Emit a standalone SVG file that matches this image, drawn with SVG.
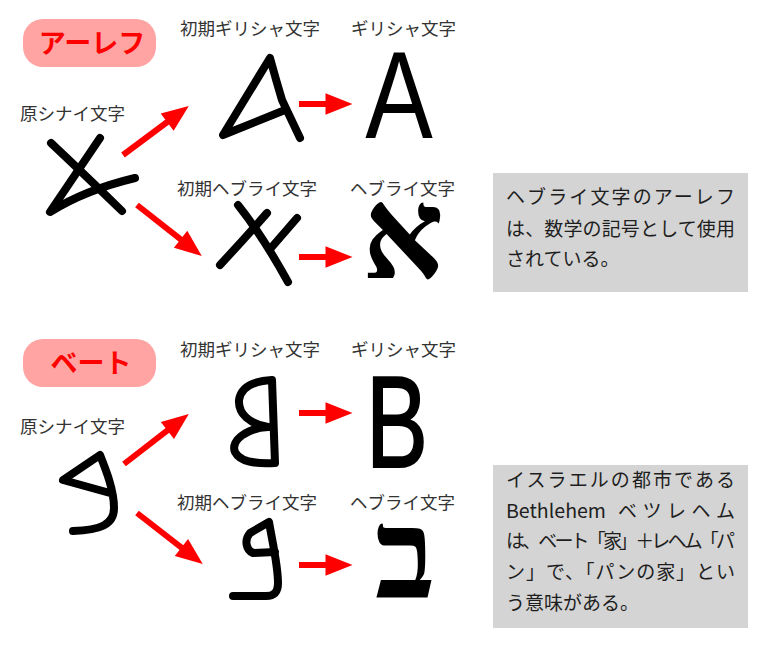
<svg xmlns="http://www.w3.org/2000/svg" width="768" height="651" viewBox="0 0 768 651">
<style>
.title{font-family:"Noto Sans CJK JP",sans-serif;font-size:27px;font-weight:bold;fill:#ff0000;text-anchor:middle}
.tbox{fill:#ffa3a3}
.lbl{font-family:"Noto Sans CJK JP",sans-serif;font-size:17.5px;fill:#333}
.note{font-family:"Noto Sans CJK JP",sans-serif;font-size:19px;fill:#1e1e1e}
.nbox{fill:#d4d4d4}
.hand{fill:none;stroke:#000;stroke-width:8;stroke-linecap:round;stroke-linejoin:round}
.glat{font-family:"Liberation Sans",Arial,sans-serif;fill:#000;text-anchor:middle}
.gheb{font-family:"Liberation Serif","DejaVu Serif",serif;font-weight:bold;fill:#000;text-anchor:middle}
.arr{stroke:#ff0000;stroke-width:6;fill:none;marker-end:url(#ah)}
</style>
<defs>
<marker id="ah" viewBox="0 0 10 8" refX="5" refY="4" markerWidth="5" markerHeight="3.6" orient="auto" markerUnits="strokeWidth">
<path d="M0,0 L10,4 L0,8 z" fill="#ff0000"/>
</marker>
</defs>
<rect width="768" height="651" fill="#fff"/>

<!-- Aleph section -->
<g id="title-aleph">
<rect class="tbox" x="23" y="19" width="133" height="48" rx="20"/>
<text class="title" x="92" y="53">アーレフ</text>
</g>
<g id="label-aleph-proto"><text class="lbl" x="20" y="119.6">原シナイ文字</text></g>
<g id="label-aleph-earlygreek"><text class="lbl" x="180" y="34.6">初期ギリシャ文字</text></g>
<g id="label-aleph-greek"><text class="lbl" x="351" y="34.6">ギリシャ文字</text></g>
<g id="label-aleph-earlyhebrew"><text class="lbl" x="177" y="194.6">初期ヘブライ文字</text></g>
<g id="label-aleph-hebrew"><text class="lbl" x="350" y="194.6">ヘブライ文字</text></g>

<g id="glyph-aleph-proto">
<path class="hand" d="M51,143 Q85,175 122,211"/>
<path class="hand" d="M100,138 Q75,175 50,212 Q85,190 135,178"/>
</g>
<g id="glyph-aleph-earlygreek">
<path class="hand" d="M285,110 L223,135 L270,58 Q276,80 282,100 L300,138"/>
</g>
<g id="glyph-aleph-greek">
<text class="glat" transform="translate(399,138) scale(0.81,1)" font-size="125">A</text>
</g>
<g id="glyph-aleph-earlyhebrew">
<path class="hand" d="M238,205 Q262,235 288,282"/>
<path class="hand" d="M267,213 Q245,238 220,265"/>
<path class="hand" d="M297,218 L271,248"/>
</g>
<g id="glyph-aleph-hebrew">
<text class="gheb" x="403" y="278" font-size="128">א</text>
</g>

<g id="note-aleph">
<rect class="nbox" x="493" y="173" width="255" height="119"/>
<text class="note" x="506" y="203.5" textLength="229" lengthAdjust="spacing">ヘブライ文字のアーレフ</text>
<text class="note" x="506" y="236" textLength="229" lengthAdjust="spacing">は、数学の記号として使用</text>
<text class="note" x="506" y="265.5">されている。</text>
</g>

<!-- Bet section -->
<g id="title-bet">
<rect class="tbox" x="23" y="339" width="133" height="48" rx="20"/>
<text class="title" x="91" y="373">ベート</text>
</g>
<g id="label-bet-proto"><text class="lbl" x="20" y="432.6">原シナイ文字</text></g>
<g id="label-bet-earlygreek"><text class="lbl" x="180" y="355.6">初期ギリシャ文字</text></g>
<g id="label-bet-greek"><text class="lbl" x="351" y="355.6">ギリシャ文字</text></g>
<g id="label-bet-earlyhebrew"><text class="lbl" x="177" y="508.6">初期ヘブライ文字</text></g>
<g id="label-bet-hebrew"><text class="lbl" x="350" y="508.6">ヘブライ文字</text></g>

<g id="glyph-bet-proto">
<path class="hand" d="M110,493 L63,480 L100,455 C106,470 114,490 114,508 C114,525 100,530 73,531"/>
</g>
<g id="glyph-bet-earlygreek">
<path class="hand" d="M272,380 L275,463 C255,464 240,462 235,452 C230,440 248,428 268,427 C250,424 238,414 239,400 C241,386 255,381 272,380"/>
</g>
<g id="glyph-bet-greek">
<text class="glat" transform="translate(397,467) scale(0.72,1)" font-size="129" stroke="#000" stroke-width="2">B</text>
</g>
<g id="glyph-bet-earlyhebrew">
<path class="hand" d="M275,552 L253,553 C246,550 244,540 250,533 L269,522 C272,540 278,565 278,583 C278,592 274,596 266,596 L233,596"/>
</g>
<g id="glyph-bet-hebrew">
<text class="gheb" x="405" y="598" font-size="126">ב</text>
</g>

<g id="note-bet">
<rect class="nbox" x="493" y="465" width="255" height="163"/>
<text class="note" x="506" y="486.5" textLength="229" lengthAdjust="spacing">イスラエルの都市である</text>
<text class="note" x="506" y="517.5" textLength="100" lengthAdjust="spacingAndGlyphs">Bethlehem</text>
<text class="note" x="618" y="517.5" textLength="117" lengthAdjust="spacing">ベ ツ レ ヘ ム</text>
<text class="note" x="506" y="547.5" textLength="229" lengthAdjust="spacing">は、ベート「家」＋レヘム「パ</text>
<text class="note" x="506" y="578.5" textLength="229" lengthAdjust="spacing">ン」で、「パンの家」とい</text>
<text class="note" x="506" y="609.5">う意味がある。</text>
</g>

<g id="connectors">
<line class="arr" x1="123" y1="155" x2="178" y2="114"/>
<line class="arr" x1="137" y1="205" x2="191.2" y2="247.7"/>
<line class="arr" x1="299" y1="104" x2="339" y2="104"/>
<line class="arr" x1="299" y1="257" x2="339" y2="257"/>
<line class="arr" x1="124" y1="464" x2="178.1" y2="422.2"/>
<line class="arr" x1="137" y1="513" x2="192.1" y2="555.8"/>
<line class="arr" x1="299" y1="413" x2="339" y2="413"/>
<line class="arr" x1="299" y1="565" x2="339" y2="565"/>
</g>
</svg>
